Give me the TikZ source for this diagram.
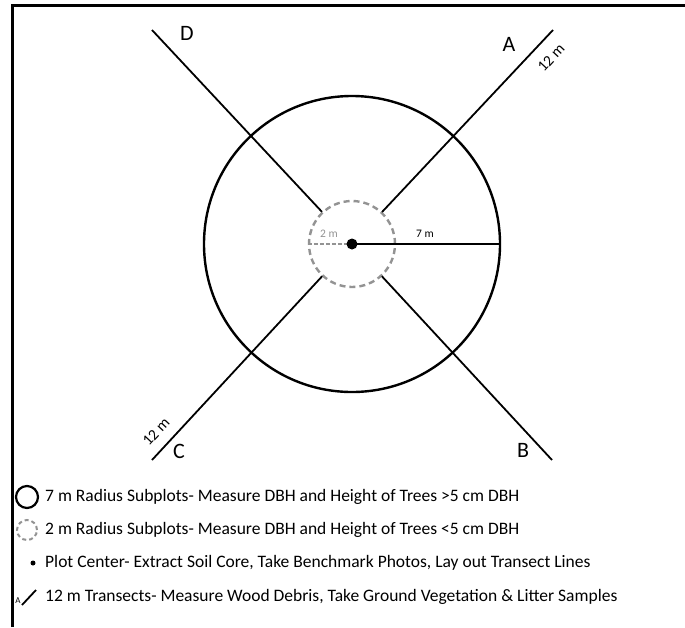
\documentclass[tikz,border=0pt]{standalone}
\usepackage{fontspec}
\setmainfont{Carlito}
\begin{document}
\begin{tikzpicture}[x=1pt,y=-1pt,
  tline/.style={line width=1.8pt,black},
  bigc/.style={circle,draw=black,line width=2.4pt,inner sep=0pt},
  smallc/.style={circle,draw=gray!85,dash pattern=on 6pt off 4pt,line width=2.4pt,inner sep=0pt},
  lbl/.style={font=\fontsize{22}{24}\selectfont,inner sep=0pt},
  tlbl/.style={font=\fontsize{15.5}{17}\selectfont,inner sep=0pt,rotate=47},
  leg/.style={font=\fontsize{17.5}{19}\selectfont,anchor=west,inner sep=0pt},
  frame/.style={line width=3pt,black}]
\useasboundingbox (0,0) rectangle (685,627);
% frame
\draw[frame] (12,627) -- (12,5) -- (685,5);
% circles
\node[bigc,minimum size=296pt] (bc) at (352,244) {};
\node[smallc,minimum size=86pt] (sc) at (352,244) {};
% transect ends
\coordinate (Ae) at (553,30);
\coordinate (De) at (152,30);
\coordinate (Be) at (552,460);
\coordinate (Ce) at (152,460);
\draw[tline,shorten <=44pt] (sc.center) -- (Ae);
\draw[tline,shorten <=44pt] (sc.center) -- (De);
\draw[tline,shorten <=44pt] (sc.center) -- (Be);
\draw[tline,shorten <=44pt] (sc.center) -- (Ce);
% radii
\draw[line width=2pt,black] (sc.center) -- (bc.east);
\draw[gray!85,line width=1.3pt,dash pattern=on 4pt off 2pt] (sc.west) -- (sc.center);
\node[circle,fill=black,minimum size=11pt,inner sep=0pt] (ctr) at (352,244) {};
\node[font=\fontsize{11.5}{12}\selectfont,inner sep=0pt] (r7) at (425,234) {7 m};
\node[font=\fontsize{11.5}{12}\selectfont,inner sep=0pt,text=gray!85] (r2) at (329,234) {2 m};
% labels
\node[lbl] (lA) at (509,44) {A};
\node[lbl] (lB) at (523,450) {B};
\node[lbl] (lC) at (179,451) {C};
\node[lbl] (lD) at (187,33) {D};
\node[tlbl] (tA) at (551,58) {12 m};
\node[tlbl] (tC) at (156,432) {12 m};
% legend
\node[bigc,minimum size=22pt,line width=2.2pt] (k1) at (27,497) {};
\node[smallc,minimum size=20pt,line width=2pt,dash pattern=on 4pt off 3pt] (k2) at (27,530) {};
\node[circle,fill=black,minimum size=5pt,inner sep=0pt] (k3) at (33,563) {};
\node[font=\fontsize{9}{10}\selectfont,inner sep=0pt] (k4a) at (18,601) {A};
\coordinate (k4s) at (22,605);
\coordinate (k4e) at (36,590);
\draw[line width=1.8pt] (k4s) -- (k4e);
\node[leg] (t1) at (45,497) {7 m Radius Subplots- Measure DBH and Height of Trees >5 cm DBH};
\node[leg] (t2) at (45,530) {2 m Radius Subplots- Measure DBH and Height of Trees <5 cm DBH};
\node[leg] (t3) at (45,563) {Plot Center- Extract Soil Core, Take Benchmark Photos, Lay out Transect Lines};
\node[leg] (t4) at (45,597) {12 m Transects- Measure Wood Debris, Take Ground Vegetation \& Litter Samples};
\end{tikzpicture}
\end{document}
